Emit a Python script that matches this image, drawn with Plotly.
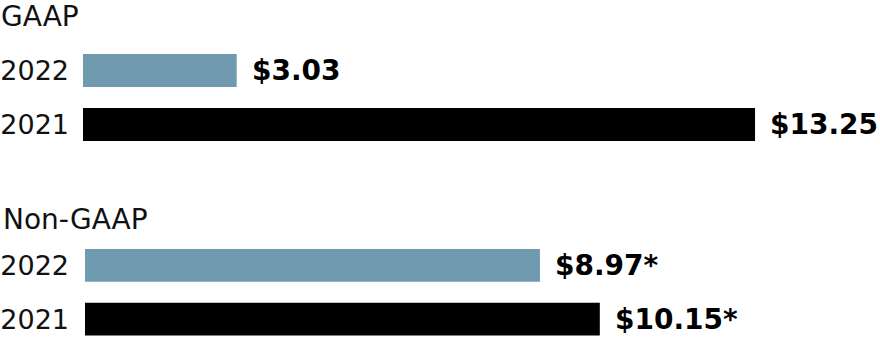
import plotly.graph_objects as go
from plotly.subplots import make_subplots

years = ["2022", "2021"]
gaap_values = [3.03, 13.25]
nongaap_values = [8.97, 10.15]
gaap_labels = ["$3.03", "$13.25"]
nongaap_labels = ["$8.97*", "$10.15*"]
group_titles = ["GAAP", "Non-GAAP"]
colors = ["#6f9ab0", "#000000"]

W, H = 880, 358
PX_PER_UNIT = 50.72
XMAX = 15

fig = make_subplots(rows=2, cols=1)

fig.add_trace(go.Bar(x=gaap_values, y=years, orientation="h",
                     marker=dict(color=colors, line=dict(width=0)),
                     hoverinfo="skip"), row=1, col=1)
fig.add_trace(go.Bar(x=nongaap_values, y=years, orientation="h",
                     marker=dict(color=colors, line=dict(width=0)),
                     hoverinfo="skip"), row=2, col=1)

def xdom(left_px):
    return [left_px / W, (left_px + XMAX * PX_PER_UNIT) / W]

def ydom(top_px, bottom_px):
    return [1 - bottom_px / H, 1 - top_px / H]

axis_font = dict(family="DejaVu Sans", size=27, color="#111111")
yrange = [len(years) - 0.5, -0.5]
fig.update_layout(
    width=W, height=H,
    margin=dict(l=0, r=0, t=0, b=0, autoexpand=False),
    paper_bgcolor="white", plot_bgcolor="white",
    showlegend=False,
    bargap=1 - 33 / 54,
    xaxis=dict(domain=xdom(83), range=[0, XMAX], visible=False, automargin=False),
    xaxis2=dict(domain=xdom(85), range=[0, XMAX], visible=False, automargin=False),
    yaxis=dict(type="category", domain=ydom(43.5, 151.5), range=yrange,
               showgrid=False, showline=False, zeroline=False, ticks="",
               tickfont=axis_font, ticklabelstandoff=13, automargin=False),
    yaxis2=dict(type="category", domain=ydom(238.5, 346), range=yrange,
                showgrid=False, showline=False, zeroline=False, ticks="",
                tickfont=axis_font, ticklabelstandoff=15, automargin=False),
)

label_font = dict(family="DejaVu Sans", size=28, color="#000000")
for (vals, labs, xr, yr) in [(gaap_values, gaap_labels, "x", "y"),
                              (nongaap_values, nongaap_labels, "x2", "y2")]:
    for i, (v, t) in enumerate(zip(vals, labs)):
        fig.add_annotation(x=v, y=i, xref=xr, yref=yr, text="<b>" + t + "</b>",
                           showarrow=False, xanchor="left", yanchor="middle",
                           xshift=13, font=label_font)

title_font = dict(family="DejaVu Sans", size=28, color="#111111")
fig.add_annotation(x=0, y=1 - 17 / H, xref="paper", yref="paper",
                   text=group_titles[0], showarrow=False, xanchor="left",
                   yanchor="middle", xshift=-1, font=title_font)
fig.add_annotation(x=0, y=1 - 219 / H, xref="paper", yref="paper",
                   text=group_titles[1], showarrow=False, xanchor="left",
                   yanchor="middle", xshift=1, font=title_font)

fig.write_html("out.html")
